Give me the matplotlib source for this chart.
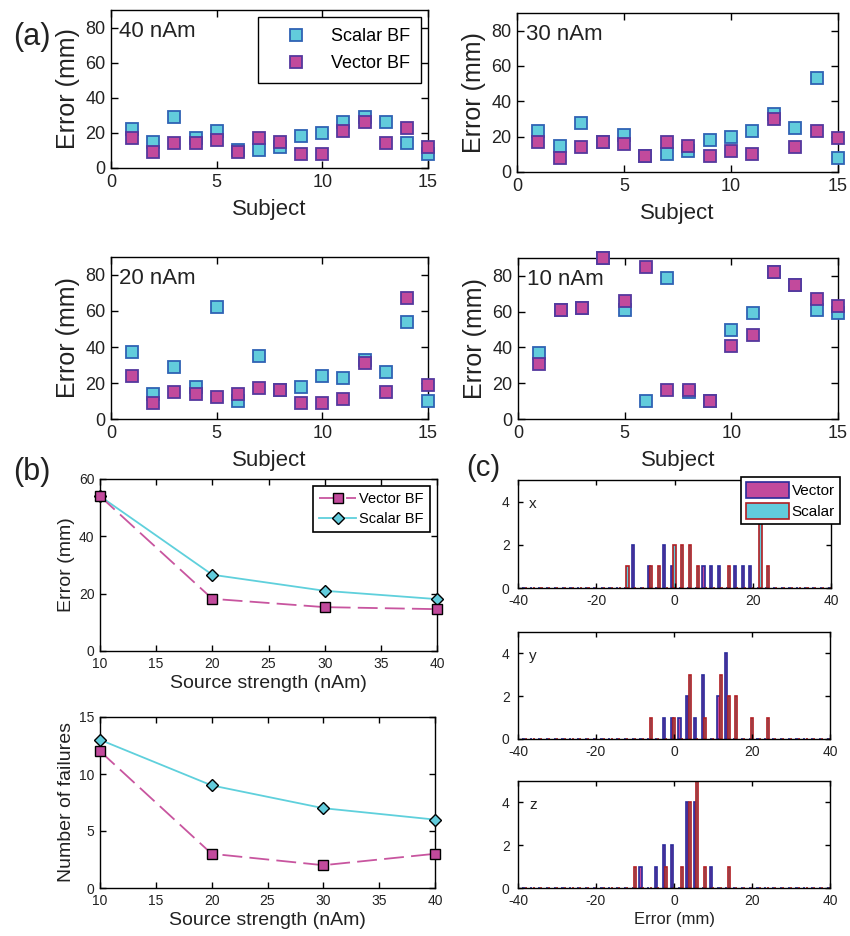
import numpy as np
import matplotlib
matplotlib.use('Agg')
import matplotlib.pyplot as plt
from matplotlib.patches import Patch

plt.rcParams['font.family'] = ['Liberation Sans', 'DejaVu Sans']
plt.rcParams['axes.linewidth'] = 1.0
plt.rcParams['axes.unicode_minus'] = False

W, H = 850, 936

# ---- (a) localisation error per subject ----
subjects = list(range(1, 16))
scalar_40 = [22, 15, 29, 17, 21, 10, 10, 12, 18, 20, 26, 29, 26, 14, 8]
vector_40 = [17, 9, 14, 14, 16, 9, 17, 15, 8, 8, 21, 26, 14, 23, 12]
scalar_30 = [23, 15, 28, 17, 21, 9, 10, 12, 18, 20, 23, 33, 25, 53, 8]
vector_30 = [17, 8, 14, 17, 16, 9, 17, 15, 9, 12, 10, 30, 14, 23, 19]
scalar_20 = [37, 14, 29, 18, 62, 10, 35, 16, 18, 24, 23, 33, 26, 54, 10]
vector_20 = [24, 9, 15, 14, 12, 14, 17, 16, 9, 9, 11, 31, 15, 67, 19]
scalar_10 = [37, 61, 62, 90, 61, 10, 79, 15, 10, 50, 59, 82, 75, 61, 59]
vector_10 = [31, 61, 62, 90, 66, 85, 16, 16, 10, 41, 47, 82, 75, 67, 63]

# ---- (b) summary vs source strength ----
source_nam = [10, 20, 30, 40]
vector_mean_err = [54, 18.2, 15.3, 14.6]
scalar_mean_err = [54, 26.6, 21, 18.1]
vector_failures = [12, 3, 2, 3]
scalar_failures = [13, 9, 7, 6]

# ---- (c) error histograms (bin centre -> count) ----
hist_bins = list(range(-40, 42, 2))
vector_x = {-10: 2, -6: 1, -2: 2, 0: 1, 8: 1, 10: 1, 12: 1, 16: 1, 18: 1, 20: 1}
scalar_x = {-12: 1, -6: 1, -4: 1, 0: 2, 2: 2, 4: 2, 6: 1, 14: 1, 22: 3, 24: 1}
vector_y = {-2: 1, 0: 1, 2: 1, 4: 2, 6: 1, 8: 3, 12: 2, 14: 4}
scalar_y = {-6: 1, 0: 1, 4: 3, 8: 1, 12: 3, 14: 2, 16: 2, 20: 1, 24: 1}
vector_z = {-8: 1, -4: 1, -2: 2, 0: 2, 4: 4, 6: 4, 10: 1}
scalar_z = {-10: 1, -2: 1, 2: 1, 4: 4, 6: 5, 8: 1, 14: 1}

CYAN = '#62CCDC'
CYAN_EDGE = '#2F62B4'
MAGENTA = '#C24A9C'
MAG_EDGE = '#55389E'
NAVY = '#2A2A9A'
DARKRED = '#B01E22'
TXT = '#222222'

fig = plt.figure(figsize=(W / 100, H / 100), dpi=100)


def px_axes(l, t, r, b):
    return fig.add_axes([l / W, 1 - b / H, (r - l) / W, (b - t) / H])


def matlab_ticks(ax, size, length=5):
    ax.tick_params(direction='in', top=True, right=True, length=length,
                   width=1.0, labelsize=size, labelcolor=TXT, pad=4)


# ======= (a) =======
panels_a = [
    ((111, 10, 428, 168), scalar_40, vector_40, '40 nAm'),
    ((517, 13, 838, 172), scalar_30, vector_30, '30 nAm'),
    ((111, 257, 428, 419), scalar_20, vector_20, '20 nAm'),
    ((518, 258, 838, 419), scalar_10, vector_10, '10 nAm'),
]
for i, (box, sc, ve, lab) in enumerate(panels_a):
    ax = px_axes(*box)
    ax.plot(subjects, sc, 's', ms=8.5, mfc=CYAN, mec=CYAN_EDGE, mew=1.3,
            ls='none', clip_on=False, label='Scalar BF', zorder=3)
    ax.plot(subjects, ve, 's', ms=8.5, mfc=MAGENTA, mec=MAG_EDGE, mew=1.3,
            ls='none', clip_on=False, label='Vector BF', zorder=4)
    ax.set_xlim(0, 15)
    ax.set_ylim(0, 90)
    ax.set_xticks([0, 5, 10, 15])
    ax.set_yticks([0, 20, 40, 60, 80])
    matlab_ticks(ax, 13)
    ax.set_xlabel('Subject', fontsize=16, color=TXT, labelpad=6)
    ax.set_ylabel('Error (mm)', fontsize=18, color=TXT, labelpad=4)
    ax.text(0.4, 78, lab, fontsize=16, color=TXT, va='center', ha='left')
    if i == 0:
        leg = ax.legend(loc='upper right', fontsize=13, frameon=True,
                        fancybox=False, edgecolor='black', framealpha=1,
                        handlelength=3.0, handletextpad=0.45,
                        labelspacing=0.55, borderpad=0.6,
                        borderaxespad=0.4)
        leg.get_frame().set_linewidth(1.0)

# ======= (b) =======
bx1 = px_axes(100, 479, 437, 651)
bx2 = px_axes(100, 717, 435, 888)
for ax, v, s, ylab, ylim, yt in [
        (bx1, vector_mean_err, scalar_mean_err, 'Error (mm)', 60, [0, 20, 40, 60]),
        (bx2, vector_failures, scalar_failures, 'Number of failures', 15, [0, 5, 10, 15])]:
    ax.plot(source_nam, v, color='#C8559F', ls=(0, (11, 4)), lw=1.3,
            marker='s', ms=7.5, mfc=MAGENTA, mec='black', mew=1.0,
            clip_on=False, label='Vector BF', zorder=4)
    ax.plot(source_nam, s, color='#5FD0DC', lw=1.3,
            marker='D', ms=6.5, mfc=CYAN, mec='black', mew=1.0,
            clip_on=False, label='Scalar BF', zorder=3)
    ax.set_xlim(10, 40)
    ax.set_ylim(0, ylim)
    ax.set_xticks([10, 15, 20, 25, 30, 35, 40])
    ax.set_yticks(yt)
    matlab_ticks(ax, 10, length=4)
    ax.set_xlabel('Source strength (nAm)', fontsize=14, color=TXT, labelpad=3)
    ax.set_ylabel(ylab, fontsize=14, color=TXT, labelpad=3)
leg = bx1.legend(loc='upper right', fontsize=10.5, fancybox=False,
                 edgecolor='black', framealpha=1, handlelength=2.6,
                 handletextpad=0.2, labelspacing=0.4, borderpad=0.4,
                 borderaxespad=0.5)
leg.get_frame().set_linewidth(1.2)

# ======= (c) =======
cx1 = px_axes(518, 480, 831, 588)
cx2 = px_axes(518, 632, 830, 739)
cx3 = px_axes(518, 781, 830, 888)
bins = np.array(hist_bins)
for ax, vd, sd, comp in [(cx1, vector_x, scalar_x, 'x'),
                         (cx2, vector_y, scalar_y, 'y'),
                         (cx3, vector_z, scalar_z, 'z')]:
    vc = [vd.get(b, 0) for b in hist_bins]
    scn = [sd.get(b, 0) for b in hist_bins]
    ax.bar(bins - 0.6, vc, width=0.55, color=MAGENTA, edgecolor=NAVY, lw=1.2)
    ax.bar(bins, scn, width=0.55, color=CYAN, edgecolor=DARKRED, lw=1.2)
    ax.set_xlim(-40, 40)
    ax.set_ylim(0, 5)
    ax.set_xticks([-40, -20, 0, 20, 40])
    ax.set_yticks([0, 2, 4])
    matlab_ticks(ax, 10, length=3.5)
    ax.tick_params(axis='y', pad=6)
    ax.text(0.035, 0.78, comp, transform=ax.transAxes, fontsize=11,
            color=TXT, va='center', ha='left')
cx3.set_xlabel('Error (mm)', fontsize=12, color=TXT, labelpad=3)
handles = [Patch(facecolor=MAGENTA, edgecolor=NAVY, lw=1.2),
           Patch(facecolor=CYAN, edgecolor=DARKRED, lw=1.2)]
leg = cx1.legend(handles, ['Vector', 'Scalar'], loc='upper right',
                 bbox_to_anchor=(1.03, 1.03), borderaxespad=0, fontsize=11,
                 fancybox=False, edgecolor='black', framealpha=1,
                 handlelength=2.8, handleheight=1.25, handletextpad=0.2,
                 labelspacing=0.3, borderpad=0.35)
leg.get_frame().set_linewidth(1.2)
leg.set_zorder(10)

# panel letters
fig.text(13 / W, 1 - 37 / H, '(a)', fontsize=22, color=TXT, va='center')
fig.text(13 / W, 1 - 472 / H, '(b)', fontsize=22, color=TXT, va='center')
fig.text(466 / W, 1 - 468 / H, '(c)', fontsize=21, color=TXT, va='center')

fig.savefig('out.png', dpi=100)
